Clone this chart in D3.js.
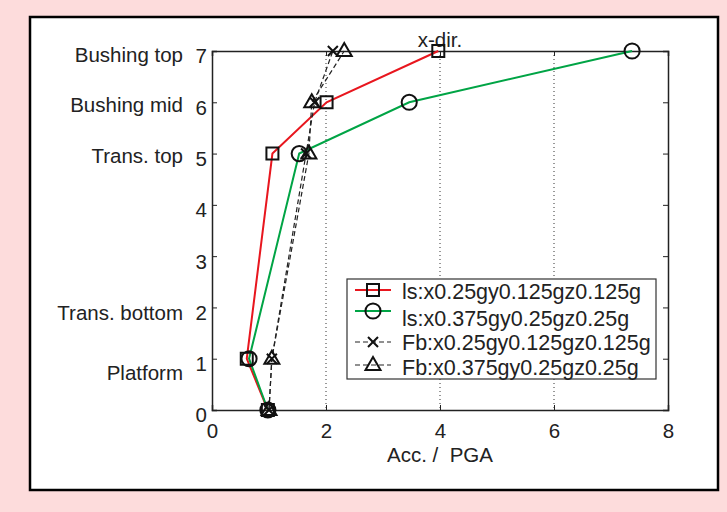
<html>
<head>
<script src="https://d3js.org/d3.v7.min.js"></script>
<style>
  body { margin: 0; background: #fddcdc; }
  text { font-family: "Liberation Sans", Arial, sans-serif; fill: #222; }
</style>
</head>
<body>
<svg width="727" height="512"></svg>
<script>
// levels along the structure
var levels = [0, 1, 5, 6, 7];
var levelNames = ["Platform", "Trans. bottom", "Trans. top", "Bushing mid", "Bushing top"];
var namePos = [0.72, 1.9, 4.95, 5.95, 6.93];
var xTicks = [0, 2, 4, 6, 8];
var yTicks = [0, 1, 2, 3, 4, 5, 6, 7];

// acceleration / PGA for each level
var ls1 = [0.98, 0.61, 1.06, 2.01, 3.97];
var ls2 = [0.98, 0.65, 1.53, 3.46, 7.37];
var fb1 = [1.00, 1.05, 1.65, 1.80, 2.12];
var fb2 = [1.00, 1.05, 1.70, 1.75, 2.32];

var seriesNames = ["ls:x0.25gy0.125gz0.125g", "ls:x0.375gy0.25gz0.25g",
                   "Fb:x0.25gy0.125gz0.125g", "Fb:x0.375gy0.25gz0.25g"];
var series = [
  {name: seriesNames[0], vals: ls1, color: "#e8161e", width: 2, dash: null, marker: "square"},
  {name: seriesNames[1], vals: ls2, color: "#00a445", width: 2, dash: null, marker: "circle"},
  {name: seriesNames[2], vals: fb1, color: "#222", width: 1.2, dash: "5,3", marker: "x"},
  {name: seriesNames[3], vals: fb2, color: "#222", width: 1.2, dash: "5,3", marker: "tri"}
];

var fs = 20.5;
var svg = d3.select("svg");
svg.append("rect").attr("x", 30).attr("y", 17).attr("width", 688).attr("height", 473)
  .attr("fill", "white").attr("stroke", "black").attr("stroke-width", 2.5);

var pLeft = 212, pRight = 668, pTop = 51, pBottom = 410;
var xs = d3.scaleLinear().domain([0, 8]).range([pLeft, pRight]);
var ys = d3.scaleLinear().domain([0, 7]).range([pBottom, pTop]);

// dotted grid
svg.append("g").selectAll("line").data([2, 4, 6]).enter().append("line")
  .attr("x1", d => xs(d)).attr("x2", d => xs(d)).attr("y1", pTop).attr("y2", pBottom)
  .attr("stroke", "#333").attr("stroke-width", 1).attr("stroke-dasharray", "1,3");

// axes (box with inward ticks)
var ax = svg.append("g");
ax.append("g").attr("transform", "translate(0," + pBottom + ")")
  .call(d3.axisBottom(xs).tickValues(xTicks).tickSize(-5).tickPadding(13).tickFormat(d3.format("d")));
ax.append("g").attr("transform", "translate(0," + pTop + ")")
  .call(d3.axisTop(xs).tickValues(xTicks).tickSize(-5).tickFormat(""));
var yAx = ax.append("g").attr("transform", "translate(" + pLeft + ",0)")
  .call(d3.axisLeft(ys).tickValues(yTicks).tickSize(-5).tickPadding(5).tickFormat(d3.format("d")));
ax.append("g").attr("transform", "translate(" + pRight + ",0)")
  .call(d3.axisRight(ys).tickValues(yTicks).tickSize(-5).tickFormat(""));
ax.selectAll(".domain").attr("stroke", "#222").attr("stroke-width", 1.5);
ax.selectAll(".tick line").attr("stroke", "#222");
ax.selectAll("text").attr("font-size", fs).attr("fill", "#222")
  .style("font-family", "'Liberation Sans', Arial, sans-serif");
yAx.selectAll("text").attr("dy", "0.58em");

// level names
svg.append("g").selectAll("text").data(levelNames).enter().append("text")
  .attr("x", 183).attr("y", (d, i) => ys(namePos[i])).attr("dy", "0.35em")
  .attr("text-anchor", "end").attr("font-size", fs).text(d => d);

svg.append("text").attr("x", 440).attr("y", 462).attr("text-anchor", "middle")
  .attr("font-size", fs).style("white-space", "pre").text("Acc. /  PGA");
svg.append("text").attr("x", 440).attr("y", 47).attr("text-anchor", "middle")
  .attr("font-size", fs).text("x-dir.");

function drawMarker(g, type, x, y) {
  var m = g.append("path").attr("fill", "none").attr("stroke", "#111").attr("stroke-width", 2)
    .attr("transform", "translate(" + x + "," + y + ")");
  if (type == "square") m.attr("d", "M-6,-6H6V6H-6Z");
  if (type == "circle") m.attr("d", d3.symbol().type(d3.symbolCircle).size(180)());
  if (type == "x") m.attr("d", "M-5,-5L5,5M-5,5L5,-5");
  if (type == "tri") m.attr("d", "M0,-8L7.5,5H-7.5Z");
}

var line = d3.line().x(d => xs(d[0])).y(d => ys(d[1]));
series.forEach(function (s) {
  var pts = s.vals.map((v, i) => [v, levels[i]]);
  svg.append("path").datum(pts).attr("d", line).attr("fill", "none")
    .attr("stroke", s.color).attr("stroke-width", s.width)
    .attr("stroke-dasharray", s.dash);
});
series.forEach(function (s) {
  var g = svg.append("g");
  s.vals.forEach((v, i) => drawMarker(g, s.marker, xs(v), ys(levels[i])));
});

// legend
var markY = [11, 32, 63, 86];
var textY = [12, 39, 63, 88];
var lg = svg.append("g").attr("transform", "translate(347,279)");
lg.append("rect").attr("width", 309).attr("height", 100).attr("fill", "white")
  .attr("stroke", "#333").attr("stroke-width", 1.2);
series.forEach(function (s, i) {
  lg.append("line").attr("x1", 8).attr("x2", 44).attr("y1", markY[i]).attr("y2", markY[i])
    .attr("stroke", s.color).attr("stroke-width", s.width).attr("stroke-dasharray", s.dash);
  drawMarker(lg, s.marker, 26, markY[i]);
  lg.append("text").attr("x", 55).attr("y", textY[i]).attr("dy", "0.35em")
    .attr("font-size", 21.5).text(s.name);
});
</script>
</body>
</html>
